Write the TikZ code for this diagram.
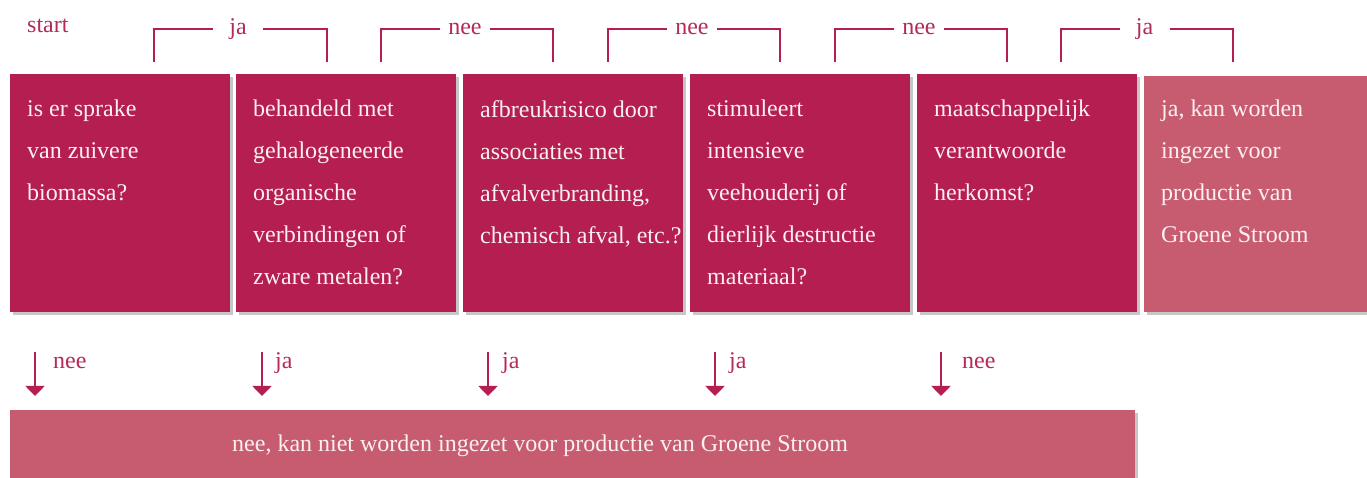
\documentclass[tikz,border=0pt]{standalone}
\usepackage{fontspec}
\setmainfont{Liberation Serif}
\usetikzlibrary{arrows.meta,positioning,shadows,calc}
\definecolor{berry}{HTML}{B41E50}
\definecolor{rose}{HTML}{C75C70}
\definecolor{cream}{HTML}{FBF0F0}
\definecolor{berryink}{HTML}{B42A5A}
\tikzset{
  boxshadow/.style={drop shadow={shadow xshift=3pt,shadow yshift=-3pt,
                    fill=black,opacity=0.22}},
  qbox/.style={fill=berry,anchor=north west,inner sep=0pt,
               minimum width=220pt,minimum height=238pt,boxshadow},
  ybox/.style={fill=rose,anchor=north west,inner sep=0pt,
               minimum width=230pt,minimum height=236pt,boxshadow},
  nbox/.style={fill=rose,anchor=north west,inner sep=0pt,
               minimum width=1125pt,minimum height=80pt,boxshadow},
  qtext/.style={anchor=north west,inner sep=0pt,align=left,text=cream,
                font=\fontsize{24}{42}\selectfont,execute at begin node=\strut},
  lbl/.style={inner sep=0pt,text=berryink,font=\fontsize{24}{28}\selectfont},
  flag/.style={lbl,fill=white,minimum width=50pt,minimum height=20pt},
  bracket/.style={draw=berry,line width=1.8pt},
  downarr/.style={-{Triangle[width=19pt,length=10pt]},draw=berry,fill=berry,line width=1.8pt}
}
\begin{document}
\begin{tikzpicture}[x=1pt,y=1pt]
  \useasboundingbox (0,0) rectangle (1367,478);
  \node[lbl,anchor=base west] (start) at (27,445) {start};

  % vragen
  \node[qbox] (q1) at (10,404) {};
  \node[qbox] (q2) at (236,404) {};
  \node[qbox] (q3) at (463,404) {};
  \node[qbox] (q4) at (690,404) {};
  \node[qbox] (q5) at (917,404) {};
  \node[ybox] (yes) at (1144,402) {};
  \node[nbox] (no) at (10,68) {};

  \node[qtext] (q1t) at (27,378) {is er sprake\\van zuivere\\biomassa?};
  \node[qtext] (q2t) at (253,378) {behandeld met\\gehalogeneerde\\organische\\verbindingen of\\zware metalen?};
  \node[qtext] (q3t) at (480,378) {afbreukrisico door\\associaties met\\afvalverbranding,\\chemisch afval, etc.?};
  \node[qtext] (q4t) at (707,378) {stimuleert\\intensieve\\veehouderij of\\dierlijk destructie\\materiaal?};
  \node[qtext] (q5t) at (934,378) {maatschappelijk\\verantwoorde\\herkomst?};
  \node[qtext] (yest) at (1161,378) {ja, kan worden\\ingezet voor\\productie van\\Groene Stroom};
  \node[lbl,text=cream,anchor=base west] (not) at (232,26) {nee, kan niet worden ingezet voor productie van Groene Stroom};

  % verbindingen boven
  \draw[bracket] ($(q1.north west)+(144,12)$) |- node[flag,pos=0.743] (f1) {ja} ($(q2.north west)+(91,45)$) -- ++(0,-33);
  \draw[bracket] ($(q2.north west)+(145,12)$) |- node[flag,pos=0.744] (f2) {nee} ($(q3.north west)+(90,45)$) -- ++(0,-33);
  \draw[bracket] ($(q3.north west)+(145,12)$) |- node[flag,pos=0.744] (f3) {nee} ($(q4.north west)+(90,45)$) -- ++(0,-33);
  \draw[bracket] ($(q4.north west)+(145,12)$) |- node[flag,pos=0.744] (f4) {nee} ($(q5.north west)+(90,45)$) -- ++(0,-33);
  \draw[bracket] ($(q5.north west)+(144,12)$) |- node[flag,pos=0.743] (f5) {ja} ($(yes.north west)+(89,47)$) -- ++(0,-33);

  % pijlen naar beneden
  \draw[downarr] ($(q1.south west)+(25,-40)$) -- ($(no.north west)+(25,14)$);
  \draw[downarr] ($(q2.south west)+(26,-40)$) -- ($(no.north west)+(252,14)$);
  \draw[downarr] ($(q3.south west)+(25,-40)$) -- ($(no.north west)+(478,14)$);
  \draw[downarr] ($(q4.south west)+(25,-40)$) -- ($(no.north west)+(705,14)$);
  \draw[downarr] ($(q5.south west)+(24,-40)$) -- ($(no.north west)+(931,14)$);
  \node[lbl,anchor=base west] (a1) at (53,109) {nee};
  \node[lbl,anchor=base west] (a2) at (275,109) {ja};
  \node[lbl,anchor=base west] (a3) at (502,109) {ja};
  \node[lbl,anchor=base west] (a4) at (729,109) {ja};
  \node[lbl,anchor=base west] (a5) at (962,109) {nee};
\end{tikzpicture}
\end{document}
